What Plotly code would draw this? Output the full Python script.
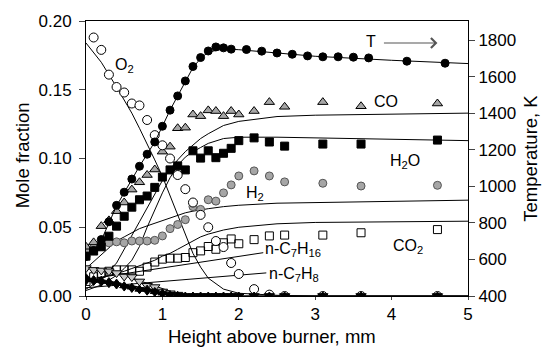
import plotly.graph_objects as go

# ---------------- data ----------------
# common measurement heights (mm) for species
x_sp = [0.0, 0.1, 0.2, 0.3, 0.4, 0.5, 0.6, 0.7, 0.8, 0.9, 1.0, 1.1, 1.2, 1.3, 1.4,
        1.5, 1.6, 1.7, 1.8, 1.9, 2.0, 2.2, 2.4, 2.6, 3.1, 3.6, 4.6]

# O2 (open circles), starts at 0.1 mm
x_o2 = x_sp[1:]
o2 = [0.188, 0.179, 0.161, 0.152, 0.148, 0.140, 0.1386, 0.128, 0.117, 0.1096, 0.100,
      0.088, 0.0777, 0.068, 0.059, 0.050, 0.040, 0.0356, 0.024, 0.016, 0.005, 0.001,
      0.0, 0.0, 0.0, 0.0]

co = [0.0358, 0.039, 0.0508, 0.055, 0.0617, 0.068, 0.0774, 0.0827, 0.088, 0.0920,
      0.105, 0.1086, 0.122, 0.1224, 0.132, 0.1308, 0.135, 0.1345, 0.1308, 0.1345,
      0.132, 0.1345, 0.141, 0.1376, 0.141, 0.138, 0.140]

h2o = [0.029, 0.0327, 0.0358, 0.0435, 0.0508, 0.058, 0.0646, 0.070, 0.0727, 0.079,
       0.0865, 0.0917, 0.0946, 0.0917, 0.1056, 0.1003, 0.1056, 0.1006, 0.1038, 0.1074,
       0.113, 0.115, 0.112, 0.109, 0.1105, 0.1105, 0.1134]

h2 = [0.033, 0.035, 0.038, 0.0387, 0.0394, 0.0387, 0.040, 0.040, 0.040, 0.0405,
      0.0437, 0.049, 0.052, 0.0555, 0.065, 0.063, 0.070, 0.069, 0.075, 0.0808,
      0.0873, 0.091, 0.0873, 0.083, 0.082, 0.080, 0.0805]

co2 = [0.0106, 0.014, 0.0165, 0.018, 0.019, 0.019, 0.019, 0.018, 0.021, 0.0247,
       0.0268, 0.0275, 0.0275, 0.028, 0.0315, 0.0328, 0.036, 0.034, 0.0387, 0.0415,
       0.038, 0.041, 0.0437, 0.0443, 0.0443, 0.046, 0.0483]

nc7h16 = [0.0203, 0.019, 0.0186, 0.018, 0.0167, 0.0142, 0.0138, 0.0106, 0.0075, 0.0065,
          0.0033, 0.002, 0.001, 0.0, 0.0, 0.0, 0.0, 0.0, 0.0, 0.0, 0.0, 0.0, 0.0, 0.0,
          0.0, 0.0, 0.0]

nc7h8 = [0.0135, 0.012, 0.0115, 0.0105, 0.0094, 0.0075, 0.0065, 0.005, 0.005, 0.0033,
         0.0022, 0.001, 0.0005, 0.0, 0.0, 0.0, 0.0, 0.0, 0.0, 0.0, 0.0, 0.0, 0.0, 0.0,
         0.0, 0.0, 0.0]

other = [0.011, 0.0105, 0.010, 0.009, 0.008, 0.0065, 0.0055, 0.0045, 0.0035, 0.0025,
         0.0015, 0.001, 0.0005, 0.0, 0.0, 0.0, 0.0, 0.0, 0.0, 0.0, 0.0, 0.0, 0.0, 0.0,
         0.0, 0.0, 0.0]

# temperature (filled circles, right axis)
x_t = [0.0, 0.1, 0.2, 0.3, 0.4, 0.5, 0.6, 0.7, 0.8, 0.9, 1.0, 1.1, 1.2, 1.3, 1.4, 1.5,
       1.6, 1.7, 1.8, 1.9, 2.1, 2.3, 2.5, 2.7, 2.9, 3.1, 3.3, 3.5, 3.7, 4.2, 4.7]
t_exp = [616, 649, 709, 806, 896, 968, 1040, 1110, 1176, 1243, 1329, 1417, 1495, 1577,
         1656, 1705, 1741, 1763, 1758, 1751, 1749, 1740, 1730, 1723, 1714, 1709, 1709,
         1707, 1703, 1685, 1674]

# model curves
x_m = [0.0, 0.2, 0.4, 0.5, 0.6, 0.7, 0.8, 0.9, 1.0, 1.1, 1.2, 1.3, 1.4, 1.5, 1.6, 1.8,
       2.0, 2.5, 3.0, 4.0, 5.0]
t_mod = [600, 705, 893, 968, 1040, 1110, 1176, 1243, 1329, 1417, 1495, 1577, 1650,
         1700, 1735, 1752, 1748, 1730, 1712, 1690, 1672]
o2_mod = [0.184, 0.170, 0.152, 0.143, 0.133, 0.122, 0.111, 0.099, 0.087, 0.073, 0.059,
          0.045, 0.031, 0.021, 0.013, 0.005, 0.002, 0.0005, 0.0, 0.0, 0.0]
co_mod = [0.005, 0.012, 0.024, 0.0337, 0.044, 0.054, 0.064, 0.074, 0.084, 0.092,
          0.099, 0.105, 0.110, 0.1145, 0.118, 0.124, 0.127, 0.1305, 0.1315, 0.1325, 0.133]
h2o_mod = [0.004, 0.008, 0.015, 0.020, 0.026, 0.036, 0.050, 0.063, 0.075, 0.086,
           0.095, 0.101, 0.105, 0.108, 0.111, 0.1145, 0.1155, 0.1155, 0.115, 0.114, 0.113]
h2_mod = [0.020, 0.030, 0.040, 0.043, 0.046, 0.049, 0.051, 0.053, 0.055, 0.057, 0.059,
          0.0605, 0.0617, 0.0627, 0.0635, 0.065, 0.066, 0.0675, 0.068, 0.069, 0.0697]
co2_mod = [0.010, 0.013, 0.016, 0.018, 0.020, 0.022, 0.024, 0.026, 0.029, 0.031, 0.034,
           0.037, 0.040, 0.043, 0.045, 0.048, 0.050, 0.0525, 0.0535, 0.054, 0.0544]
nc7h16_mod = [0.021, 0.019, 0.0165, 0.015, 0.013, 0.011, 0.009, 0.007, 0.005, 0.0035,
              0.002, 0.001, 0.0005, 0.0, 0.0, 0.0, 0.0, 0.0, 0.0, 0.0, 0.0]
nc7h8_mod = [0.012, 0.011, 0.0095, 0.0085, 0.0075, 0.0065, 0.0055, 0.0043, 0.0032,
             0.0022, 0.0014, 0.0008, 0.0004, 0.0, 0.0, 0.0, 0.0, 0.0, 0.0, 0.0, 0.0]

# leader lines to fuel labels
lead16_x = [0.0, 2.32]
lead16_y = [0.012, 0.0315]
lead8_x = [0.0, 2.36]
lead8_y = [0.006, 0.0168]

FONT = "Liberation Sans, Arial, sans-serif"
GRAY = "#a6a6a6"

fig = go.Figure()

def line(x, y, yaxis="y"):
    fig.add_trace(go.Scatter(x=x, y=y, mode="lines", yaxis=yaxis,
                             line=dict(color="black", width=1), hoverinfo="skip"))

def pts(x, y, symbol, fill, edge="black", size=8, yaxis="y", lw=1):
    fig.add_trace(go.Scatter(x=x, y=y, mode="markers", yaxis=yaxis,
                             marker=dict(symbol=symbol, size=size, color=fill,
                                         line=dict(color=edge, width=lw))))

# model lines
for ym in [o2_mod, co_mod, h2o_mod, h2_mod, co2_mod, nc7h16_mod, nc7h8_mod]:
    line(x_m, ym)
line(lead16_x, lead16_y)
line(lead8_x, lead8_y)
line(x_m, t_mod, yaxis="y2")

# data markers
pts(x_sp, co2, "square-open", "black", size=8)
pts(x_sp, h2, "circle", GRAY, edge="#555555", size=8)
pts(x_sp, co, "triangle-up", GRAY, size=9)
pts(x_sp, h2o, "square", "black", size=8)
pts(x_o2, o2, "circle", "white", size=9)
pts(x_sp, nc7h16, "triangle-down", "#c8c8c8", size=9)
pts(x_sp, other, "triangle-down", "black", size=8)
pts(x_sp, nc7h8, "triangle-up", "black", size=8)
pts(x_t, t_exp, "circle", "black", size=8, yaxis="y2")

ann = []
def label(x, y, text, xanchor="center", size=16):
    ann.append(dict(x=x, y=y, xref="x", yref="y", text=text, showarrow=False,
                    xanchor=xanchor, yanchor="middle",
                    font=dict(family=FONT, size=size, color="black")))

label(0.51, 0.168, "O<sub>2</sub>")
label(3.93, 0.1413, "CO")
label(4.18, 0.098, "H<sub>2</sub>O")
label(2.21, 0.0745, "H<sub>2</sub>")
label(4.21, 0.036, "CO<sub>2</sub>")
label(2.32, 0.034, "n-C<sub>7</sub>H<sub>16</sub>", xanchor="left")
label(2.37, 0.0155, "n-C<sub>7</sub>H<sub>8</sub>", xanchor="left")
label(3.73, 0.185, "T")

# T arrow
ann.append(dict(x=4.6, y=0.184, ax=3.88, ay=0.184, xref="x", yref="y",
                axref="x", ayref="y", text="", showarrow=True, arrowhead=4,
                arrowsize=1.6, arrowwidth=1.2, arrowcolor="#555555"))

# axis titles (placed in paper coordinates)
def title(x, y, text, angle=0):
    ann.append(dict(x=x, y=y, xref="paper", yref="paper", text=text, showarrow=False,
                    xanchor="center", yanchor="middle", textangle=angle,
                    font=dict(family=FONT, size=18.5, color="black")))

title(0.487, -0.146, "Height above burner, mm")
title(-0.166, 0.51, "Mole fraction", angle=-90)
title(1.163, 0.50, "Temperature, K", angle=-90)

fig.update_layout(
    width=542, height=347,
    margin=dict(l=86, r=74, t=21, b=51, autoexpand=False),
    paper_bgcolor="white", plot_bgcolor="white",
    showlegend=False,
    font=dict(family=FONT, size=17, color="black"),
    annotations=ann,
    xaxis=dict(range=[0, 5], tickvals=[0, 1, 2, 3, 4, 5], ticks="outside", ticklen=3,
               showline=True, linecolor="black", linewidth=1, mirror=True,
               showgrid=False, zeroline=False, automargin=False),
    yaxis=dict(range=[0, 0.2], tickvals=[0, 0.05, 0.10, 0.15, 0.20], tickformat=".2f",
               ticks="outside", ticklen=6, ticklabelstandoff=4,
               showline=True, linecolor="black", linewidth=1,
               showgrid=False, zeroline=False, automargin=False),
    yaxis2=dict(range=[400, 1905], tickvals=[400, 600, 800, 1000, 1200, 1400, 1600, 1800],
                overlaying="y", side="right", ticks="outside", ticklen=6,
                showline=True, linecolor="black", linewidth=1, showgrid=False,
                zeroline=False, automargin=False),
)

fig.write_html("out.html", config={"displayModeBar": False},
               post_script="document.body.style.margin='0';document.body.style.overflow='hidden';")
